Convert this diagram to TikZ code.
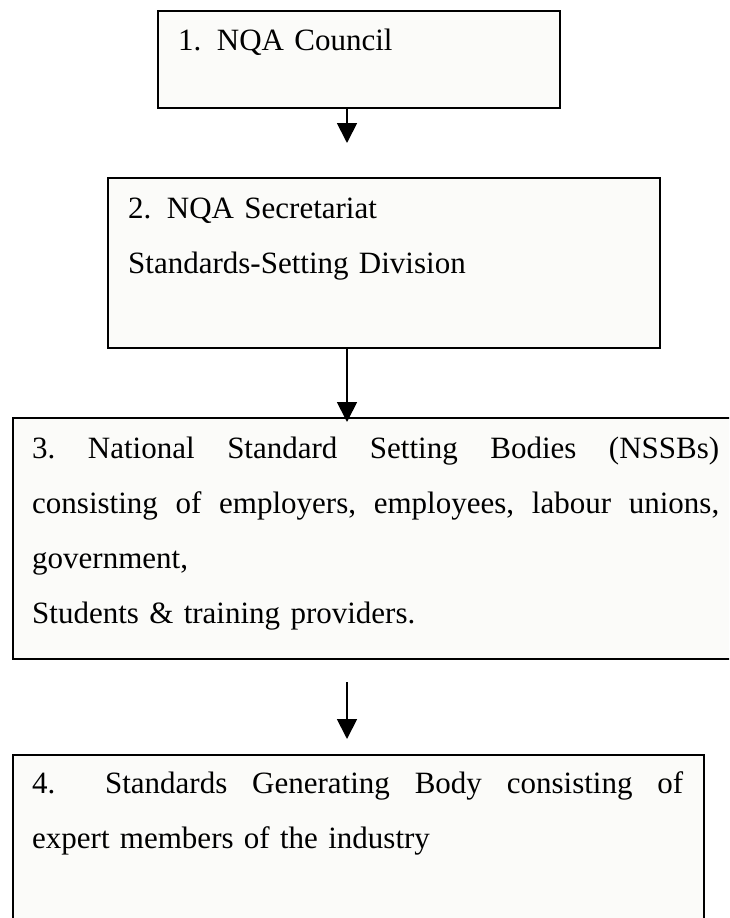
\documentclass[tikz,border=0pt]{standalone}
\usepackage{fontspec}
\setmainfont{Liberation Serif}
\usetikzlibrary{arrows.meta}
\definecolor{boxfill}{RGB}{251,251,249}
\begin{document}
\begin{tikzpicture}[x=1pt,y=-1pt,
  box/.style={draw=black, line width=1.8pt, fill=boxfill, rectangle,
    inner sep=0pt, anchor=north west},
  txt/.style={anchor=base west, inner sep=0pt, align=left,
    font=\fontsize{31}{55}\selectfont},
  arr/.style={line width=1.8pt, -{Triangle[length=20pt,width=20pt]}}]
\useasboundingbox (0,0) rectangle (729,918);
\clip (0,0) rectangle (729,918);

% boxes
\node[box, minimum width=402pt, minimum height=97pt]  (b1) at (157,10)  {};
\node[box, minimum width=552pt, minimum height=170pt] (b2) at (107,177) {};
\node[box, minimum width=720pt, minimum height=241pt] (b3) at (12,417)  {};
\node[box, minimum width=691pt, minimum height=170pt] (b4) at (12,754)  {};

% texts (base anchor = baseline of the first line)
\node[txt, text width=360pt] (t1) at (178,50) {1. NQA Council};
\node[txt, text width=510pt] (t2) at (128,218)
  {2. NQA Secretariat\\Standards-Setting Division};
\node[txt, text width=687pt] (t3) at (32,458)
  {3.\hfill National\hfill Standard\hfill Setting\hfill Bodies\hfill (NSSBs)\\
   consisting\hfill of\hfill employers,\hfill employees,\hfill labour\hfill unions,\\
   government,\\
   Students \& training providers.};
\node[txt, text width=651pt] (t4) at (32,793)
  {4.\hspace{24.8pt}\hfill Standards\hfill Generating\hfill Body\hfill consisting\hfill of\\
   expert members of the industry};

% connectors
\coordinate (a1) at (347,143);
\coordinate (a2) at (347,422);
\coordinate (a3s) at (347,682);
\coordinate (a3e) at (347,739);
\draw[arr] (b1.south -| a1) -- (a1);
\draw[arr] (b2.south -| a2) -- (a2);
\draw[arr] (a3s) -- (a3e);
\end{tikzpicture}
\end{document}
